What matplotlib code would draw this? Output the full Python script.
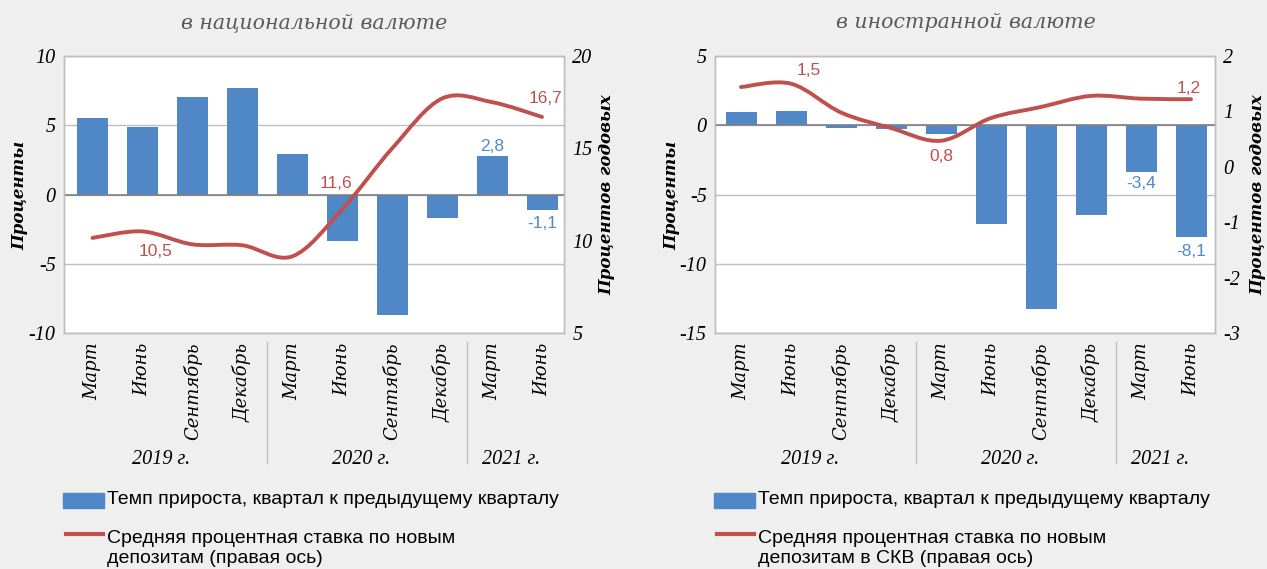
import numpy as np
import matplotlib
matplotlib.use("Agg")
import matplotlib.pyplot as plt
from matplotlib.path import Path
from matplotlib.patches import PathPatch, Rectangle
from matplotlib.lines import Line2D
from matplotlib.transforms import blended_transform_factory

plt.rcParams['axes.unicode_minus'] = False

# ---------------- data ----------------
months = ["Март", "Июнь", "Сентябрь", "Декабрь", "Март", "Июнь",
          "Сентябрь", "Декабрь", "Март", "Июнь"]
years = ["2019 г.", "2020 г.", "2021 г."]
year_sizes = [4, 4, 2]

titles = ["в национальной валюте", "в иностранной валюте"]

nat_growth = [5.5, 4.9, 7.05, 7.7, 2.95, -3.35, -8.7, -1.7, 2.8, -1.1]
nat_rate = [10.15, 10.5, 9.8, 9.75, 9.15, 11.7, 15.0, 17.7, 17.5, 16.7]
for_growth = [0.95, 1.05, -0.17, -0.27, -0.63, -7.1, -13.3, -6.5, -3.4, -8.1]
for_rate = [1.44, 1.5, 0.98, 0.7, 0.47, 0.88, 1.08, 1.28, 1.23, 1.22]

nat_left_ticks = [-10, -5, 0, 5, 10]
nat_right_ticks = [5, 10, 15, 20]
for_left_ticks = [-15, -10, -5, 0, 5]
for_right_ticks = [-3, -2, -1, 0, 1, 2]

nat_rate_labels = {1: "10,5", 5: "11,6", 9: "16,7"}
for_rate_labels = {1: "1,5", 4: "0,8", 9: "1,2"}
nat_bar_labels = [8, 9]
for_bar_labels = [8, 9]

legend_bar = "Темп прироста, квартал к предыдущему кварталу"
legend_line = ["Средняя процентная ставка по новым\nдепозитам (правая ось)",
               "Средняя процентная ставка по новым\nдепозитам в СКВ (правая ось)"]

# ---------------- style ----------------
BG = "#EFEFEF"
BLUE = "#4F87C7"
BLUE_TXT = "#4F8AD0"
RED = "#C0504D"
GRID = "#BFBFBF"
ZERO = "#808080"
W, H = 1267, 569

fig = plt.figure(figsize=(W / 100, H / 100), dpi=100, facecolor=BG)

serif = "Liberation Serif"
wide_serif = "DejaVu Serif"
sans = "Liberation Sans"


def smooth_path(x, y):
    pts = np.column_stack([x, y]).astype(float)
    n = len(pts)
    verts = [pts[0]]
    codes = [Path.MOVETO]
    for i in range(n - 1):
        p0 = pts[i - 1] if i > 0 else pts[i]
        p1 = pts[i]
        p2 = pts[i + 1]
        p3 = pts[i + 2] if i + 2 < n else pts[i + 1]
        c1 = p1 + (p2 - p0) / 6.0
        c2 = p2 - (p3 - p1) / 6.0
        verts += [c1, c2, p2]
        codes += [Path.CURVE4] * 3
    return Path(verts, codes)


def fmt(v):
    return f"{v:.1f}".replace(".", ",")


def panel(left_px, xlim, growth, rate, lt, rt, rate_labels, rate_offsets,
          bar_labels, bar_offsets, title, title_x, ylab_x, ylab2_x, leg_line):
    ax = fig.add_axes([left_px / W, 1 - 333 / H, 500 / W, 277 / H])
    ax.set_facecolor("white")
    x = np.arange(len(growth))
    ax.bar(x, growth, width=0.62, color=BLUE, zorder=2)
    ax.set_xlim(*xlim)
    ax.set_ylim(lt[0], lt[-1])
    ax.set_yticks(lt)
    ax.set_yticklabels([str(t) for t in lt], fontfamily=serif, style="italic",
                       fontsize=14.5)
    ax.yaxis.grid(True, color=GRID, lw=1, zorder=0)
    ax.set_axisbelow(True)
    ax.axhline(0, color=ZERO, lw=1.2, zorder=3)
    ax.set_xticks(x)
    ax.set_xticklabels(months, rotation=90, va="top", ha="center",
                       fontfamily=wide_serif, style="italic", fontsize=13)
    ax.tick_params(axis="x", length=0, pad=7)
    ax.tick_params(axis="y", length=0, pad=6)
    for s in ax.spines.values():
        s.set_color(GRID)
        s.set_linewidth(1)

    ax2 = ax.twinx()
    ax2.set_ylim(rt[0], rt[-1])
    ax2.set_yticks(rt)
    ax2.set_yticklabels([str(t) for t in rt], fontfamily=serif, style="italic",
                        fontsize=14.5)
    ax2.tick_params(axis="y", length=0, pad=6)
    for s in ax2.spines.values():
        s.set_color(GRID)
        s.set_linewidth(1)
    ax2.add_patch(PathPatch(smooth_path(x, rate), facecolor="none",
                            edgecolor=RED, lw=2.8, capstyle="round", zorder=4))

    for (i, txt), off in zip(rate_labels.items(), rate_offsets):
        ax2.annotate(txt, (x[i], rate[i]), xytext=off, textcoords="offset points",
                     ha="center", va="center", color=RED, fontsize=12.5,
                     fontfamily=sans)
    for i, off in zip(bar_labels, bar_offsets):
        ax.annotate(fmt(growth[i]), (x[i], growth[i]), xytext=off,
                    textcoords="offset points", ha="center", va="center",
                    color=BLUE_TXT, fontsize=12.5, fontfamily=sans)

    # year groups
    tr = blended_transform_factory(ax.transData, ax.transAxes)
    start = 0
    for k, (yr, sz) in enumerate(zip(years, year_sizes)):
        mid = start + (sz - 1) / 2 - 0.12
        ax.text(mid, -(460 - 333) / 277, yr, transform=tr, ha="center",
                va="center", fontfamily=serif, style="italic", fontsize=14.5)
        if k > 0:
            ax.add_line(Line2D([start - 0.5, start - 0.5],
                               [-(342 - 333) / 277, -(463 - 333) / 277],
                               transform=tr, color=GRID, lw=1, clip_on=False))
        start += sz

    fig.text(title_x / W, 1 - 23 / H, title, ha="center", va="center",
             fontfamily=wide_serif, style="italic", fontsize=14.8,
             color="#595959")
    fig.text(ylab_x / W, 1 - 195 / H, "Проценты", rotation=90, ha="center",
             va="center", fontfamily=wide_serif, style="italic",
             fontweight="bold", fontsize=12)
    fig.text(ylab2_x / W, 1 - 195 / H, "Процентов годовых", rotation=90,
             ha="center", va="center", fontfamily=wide_serif, style="italic",
             fontweight="bold", fontsize=12)

    # legend
    fig.add_artist(Rectangle(((left_px - 1) / W, 1 - 508 / H), 41 / W, 15 / H,
                             transform=fig.transFigure, color=BLUE))
    fig.text((left_px + 43) / W, 1 - 500 / H, legend_bar, ha="left",
             va="center", fontfamily=sans, fontsize=14)
    fig.add_artist(Line2D([(left_px + 2) / W, (left_px + 39) / W],
                          [1 - 534 / H, 1 - 534 / H], transform=fig.transFigure,
                          color=RED, lw=3))
    fig.text((left_px + 43) / W, 1 - 548.5 / H, leg_line, ha="left",
             va="center", fontfamily=sans, fontsize=14, linespacing=1.2)
    return ax, ax2


panel(64, (-0.57, 9.44), nat_growth, nat_rate, nat_left_ticks, nat_right_ticks,
      nat_rate_labels, [(9.4, -14.4), (-4.3, 18.5), (2.2, 13)],
      nat_bar_labels, [(0, 6.5), (0, -10)],
      titles[0], 314, 20, 607, legend_line[0])

panel(715, (-0.52, 9.48), for_growth, for_rate, for_left_ticks, for_right_ticks,
      for_rate_labels, [(13, 9.4), (0, -11.5), (-1.4, 8)],
      for_bar_labels, [(0, -8), (0, -10)],
      titles[1], 966, 672, 1258, legend_line[1])

fig.savefig("out.png", dpi=100, facecolor=BG)
